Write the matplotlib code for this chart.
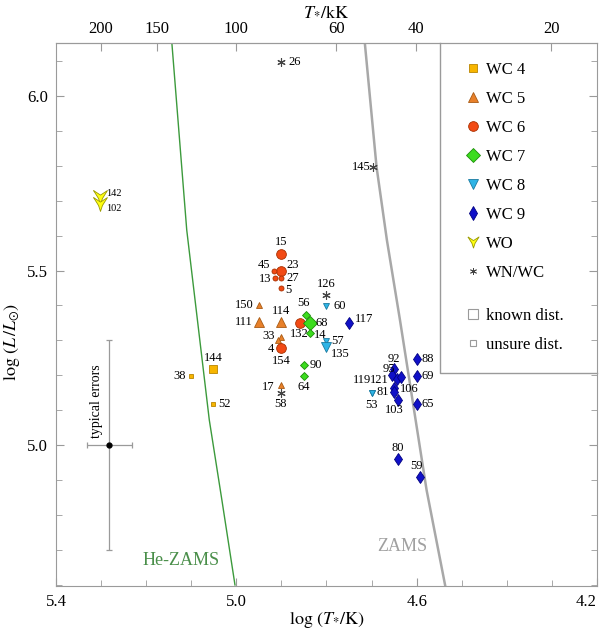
import matplotlib
matplotlib.use('Agg')
import matplotlib.pyplot as plt
import numpy as np
from matplotlib.lines import Line2D
from matplotlib.path import Path
from matplotlib.ticker import MultipleLocator, NullLocator, FixedLocator, FormatStrFormatter

plt.rcParams['font.family'] = ['Liberation Serif', 'DejaVu Serif']
plt.rcParams['mathtext.fontset'] = 'stix'

# --- data: log T_* [K], log L/Lsun, known distance (big symbol) ---
wc4_id = ['144', '38', '52']
wc4_t = [5.051, 5.100, 5.051]
wc4_l = [5.219, 5.199, 5.118]
wc4_known = [True, False, False]

wc5_id = ['150', '111', '114', None, '33', '17']
wc5_t = [4.950, 4.950, 4.901, 4.901, 4.908, 4.901]
wc5_l = [5.400, 5.352, 5.352, 5.310, 5.300, 5.172]
wc5_known = [False, True, True, False, False, False]

wc6_id = ['15', '23', '45', '13', '27', '5', '154', '4', '132']
wc6_t = [4.901, 4.901, 4.916, 4.914, 4.901, 4.901, 4.901, 4.901, 4.859]
wc6_l = [5.547, 5.499, 5.499, 5.479, 5.479, 5.449, 5.279, 5.279, 5.349]
wc6_known = [True, True, False, False, False, False, False, True, True]

wc7_id = ['56', '68', '14', '90', '64']
wc7_t = [4.846, 4.837, 4.836, 4.850, 4.850]
wc7_l = [5.372, 5.350, 5.321, 5.228, 5.199]
wc7_known = [False, True, False, False, False]

wc8_id = ['60', '57', '135', '119', '53']
wc8_t = [4.801, 4.801, 4.801, 4.700, 4.700]
wc8_l = [5.397, 5.297, 5.280, 5.148, 5.148]
wc8_known = [False, False, True, False, False]

wc9_id = ['117', '92', '95', '121', '106', '81', None, '103', '88', '69', '65', '80', '59']
wc9_t = [4.751, 4.650, 4.655, 4.644, 4.635, 4.650, 4.650, 4.642, 4.600, 4.600, 4.600, 4.642, 4.593]
wc9_l = [5.350, 5.218, 5.201, 5.189, 5.196, 5.164, 5.153, 5.129, 5.246, 5.198, 5.117, 4.959, 4.909]
wc9_known = [False] * 13

wo_id = ['142', '102']
wo_t = [5.302, 5.302]
wo_l = [5.711, 5.690]
wo_known = [False, False]

wnwc_id = ['26', '145', '126', '58']
wnwc_t = [4.901, 4.696, 4.801, 4.901]
wnwc_l = [6.098, 5.797, 5.429, 5.148]
wnwc_known = [False, False, False, False]

# ZAMS tracks
he_zams_t = [5.143, 5.110, 5.060, 5.032, 5.003]
he_zams_l = [6.152, 5.616, 5.072, 4.842, 4.599]
zams_t = [4.715, 4.689, 4.666, 4.637, 4.578, 4.537]
zams_l = [6.152, 5.797, 5.587, 5.358, 4.871, 4.599]

# typical error bar
err_t, err_l = 5.282, 5.0
err_dt, err_dl = 0.05, 0.30

# axis ticks
x_major = [5.4, 5.0, 4.6, 4.2]
top_kk = [200, 150, 100, 60, 40, 20]

# WO marker: downward arrow head
wo_marker = Path([(-1, 1), (0, 0.35), (1, 1), (0.28, -0.15), (0, -1),
                  (-0.28, -0.15), (-1, 1)])

styles = {
    'WC 4': dict(marker='s', fc='#F7B500', ec='#B98500', big=6.0, small=3.2),
    'WC 5': dict(marker='^', fc='#E8802A', ec='#A85A14', big=6.5, small=4.5),
    'WC 6': dict(marker='o', fc='#F24A14', ec='#A83000', big=7.0, small=3.6),
    'WC 7': dict(marker='D', fc='#3CDC1E', ec='#1E8C0A', big=7.0, small=4.0),
    'WC 8': dict(marker='v', fc='#2EB4E6', ec='#1A7AA0', big=6.5, small=4.8),
    'WC 9': dict(marker='d', fc='#1010C8', ec='#000080', big=7.5, small=6.5),
    'WO': dict(marker=wo_marker, fc='#FFFF10', ec='#9A9A00', big=10, small=10),
    'WN/WC': dict(marker=(6, 2, 0), fc='#444444', ec='#444444', big=6, small=6),
}

groups = [
    ('WC 4', wc4_id, wc4_t, wc4_l, wc4_known),
    ('WC 5', wc5_id, wc5_t, wc5_l, wc5_known),
    ('WC 6', wc6_id, wc6_t, wc6_l, wc6_known),
    ('WC 7', wc7_id, wc7_t, wc7_l, wc7_known),
    ('WC 8', wc8_id, wc8_t, wc8_l, wc8_known),
    ('WC 9', wc9_id, wc9_t, wc9_l, wc9_known),
    ('WO', wo_id, wo_t, wo_l, wo_known),
    ('WN/WC', wnwc_id, wnwc_t, wnwc_l, wnwc_known),
]

# label placement: offset in pixels, horizontal alignment
lab = {
    '144': (0, 11, 'center'), '38': (-5, 0, 'right'), '52': (5, 0, 'left'),
    '150': (-5, 0, 'right'), '111': (-6, 0, 'right'), '114': (0, 11, 'center'),
    '33': (-3, 4, 'right'), '17': (-6, -2, 'right'),
    '15': (0, 12, 'center'), '23': (5, 6, 'left'), '45': (-4, 6, 'right'),
    '13': (-4, -1, 'right'), '27': (5, 0, 'left'), '5': (4, -2, 'left'),
    '4': (-7, -1, 'right'), '154': (0, -13, 'center'), '132': (-1, -11, 'center'),
    '56': (-2, 12, 'center'), '68': (6, 0, 'left'), '14': (4, -2, 'left'),
    '90': (6, 0, 'left'), '64': (0, -11, 'center'),
    '60': (7, 0, 'left'), '57': (5, 0, 'left'), '135': (5, -7, 'left'),
    '53': (0, -12, 'center'), '119': (-10, 13, 'center'),
    '117': (6, 4, 'left'), '92': (0, 10, 'center'), '95': (-3, 6, 'center'),
    '121': (-8, -1, 'right'), '106': (-1, -12, 'left'), '81': (-5, -4, 'right'),
    '103': (-3, -10, 'center'), '88': (5, 0, 'left'), '69': (5, 0, 'left'),
    '65': (5, 0, 'left'), '80': (0, 11, 'center'), '59': (-3, 11, 'center'),
    '26': (7, 0, 'left'), '145': (-3, 0, 'right'), '126': (0, 11, 'center'),
    '58': (0, -11, 'center'), '142': (6, 3, 'left'), '102': (6, -4, 'left'),
}

grey = '#9a9a9a'

fig = plt.figure(figsize=(6.0, 6.31), dpi=100)
ax = fig.add_axes([56 / 600, 45 / 631, 541 / 600, 543 / 631])
ax.set_xlim(5.4, 4.2)
ax.set_ylim(4.596, 6.152)

ax.plot(he_zams_t, he_zams_l, color='#3c9a3c', lw=1.0, zorder=1)
ax.plot(zams_t, zams_l, color='#a8a8a8', lw=1.8, zorder=1)
ax.text(5.123, 4.670, 'He-ZAMS', color='#4a8f4a', fontsize=13, ha='center', va='center')
ax.text(4.631, 4.709, 'ZAMS', color='#a0a0a0', fontsize=13, ha='center', va='center')

for name, ids, ts, ls, known in groups:
    st = styles[name]
    for i in range(len(ts)):
        ms = st['big'] if known[i] else st['small']
        ax.plot(ts[i], ls[i], ls='none', marker=st['marker'], ms=ms,
                mfc=st['fc'], mec=st['ec'], mew=0.6 if name != 'WN/WC' else 0.8, zorder=3)
        if ids[i] is None:
            continue
        dx, dy, ha = lab[ids[i]]
        fs = 7.5 if name == 'WO' else 9
        ax.annotate(ids[i], (ts[i], ls[i]), xytext=(dx, dy), textcoords='offset pixels',
                    ha=ha, va='center', fontsize=fs, zorder=4)

# typical error bars
ax.errorbar(err_t, err_l, xerr=err_dt, yerr=err_dl, fmt='o', color='k', ms=3.5,
            ecolor=grey, elinewidth=0.9, capsize=2.5, capthick=0.9, zorder=2)
ax.text(5.311, 5.02, 'typical errors', rotation=90, ha='center', va='bottom', fontsize=10)

# axes cosmetics
ax.xaxis.set_major_locator(FixedLocator(x_major))
ax.xaxis.set_minor_locator(MultipleLocator(0.1))
ax.yaxis.set_major_locator(MultipleLocator(0.5))
ax.yaxis.set_minor_locator(MultipleLocator(0.1))
ax.xaxis.set_major_formatter(FormatStrFormatter('%.1f'))
ax.yaxis.set_major_formatter(FormatStrFormatter('%.1f'))
ax.tick_params(which='both', direction='in', top=False, right=True, color=grey,
               labelsize=12, pad=6)
ax.tick_params(which='major', length=6)
ax.tick_params(which='minor', length=4)
for sp in ax.spines.values():
    sp.set_color(grey)
ax.set_xlabel(r'$\log\,(T_{*}/\mathrm{K})$', fontsize=13, labelpad=0)
ax.set_ylabel(r'$\log\,(L\,/L_{\odot})$', fontsize=13)
ax.yaxis.set_label_coords(-0.062, 0.45)

sec = ax.secondary_xaxis('top', functions=(lambda x: 10 ** x / 1000.0,
                                           lambda v: np.log10(np.clip(v, 1e-6, None) * 1000.0)))
sec.set_xticks(top_kk)
sec.set_xticklabels([str(v) for v in top_kk])
sec.xaxis.set_minor_locator(NullLocator())
sec.tick_params(direction='in', length=6, color=grey, labelsize=12, pad=4)
sec.spines['top'].set_color(grey)
sec.set_xlabel(r'$T_{*}/\mathrm{kK}$', fontsize=13, labelpad=4)

# legend: spectral types, then distance flags, inside a box
handles = []
for name in ['WC 4', 'WC 5', 'WC 6', 'WC 7', 'WC 8', 'WC 9', 'WO', 'WN/WC']:
    st = styles[name]
    handles.append(Line2D([], [], ls='none', marker=st['marker'],
                          ms=min(st['big'], 8) if name != 'WN/WC' else 5,
                          mfc=st['fc'], mec=st['ec'], mew=0.6, label=name))
dist_handles = [
    Line2D([], [], ls='none', marker='s', ms=7, mfc='white', mec=grey, mew=0.8,
           label='known dist.'),
    Line2D([], [], ls='none', marker='s', ms=4, mfc='white', mec=grey, mew=0.8,
           label='unsure dist.'),
]
leg_kw = dict(loc='upper left', frameon=False, fontsize=12, handlelength=1.0,
              handletextpad=0.3, labelspacing=0.78, borderpad=0, borderaxespad=0)
leg1 = ax.legend(handles=handles, bbox_to_anchor=(0.755, 0.965), **leg_kw)
ax.add_artist(leg1)
ax.legend(handles=dist_handles, bbox_to_anchor=(0.755, 0.512), **leg_kw)
bx, by = (440 - 56) / 541, (586 - 373) / 543
ax.plot([bx, bx, 1.0], [1.0, by, by], color=grey, lw=1.0, transform=ax.transAxes,
        clip_on=False, zorder=5)

# keep the last bottom tick label inside the figure
fig.canvas.draw()
ax.get_xticklabels()[-1].set_horizontalalignment('right')

fig.savefig('out.png', dpi=100)
